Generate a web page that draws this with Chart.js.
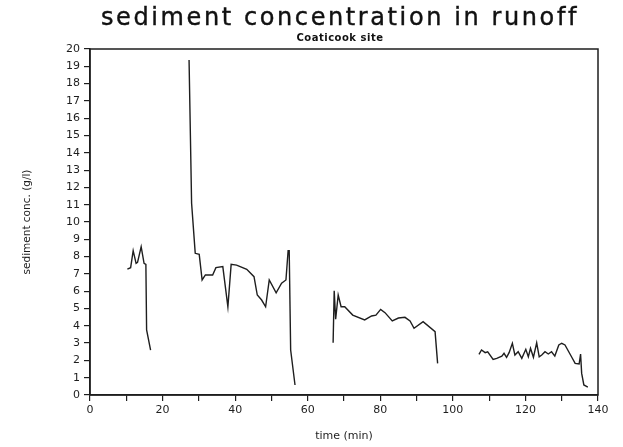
<!DOCTYPE html>
<html>
<head>
<meta charset="utf-8">
<title>sediment concentration in runoff</title>
<script src="https://cdn.jsdelivr.net/npm/chart.js@4.4.0/dist/chart.umd.min.js"></script>
<style>
  body { margin: 0; background: #fff; }
  #wrap { position: relative; width: 623px; height: 447px; }
  #title {
    position: absolute; left: 86px; width: 508px; top: 3px;
    text-align: center; font: 24px "DejaVu Sans"; letter-spacing: 2.6px; color: #111;
    -webkit-text-stroke: 0.4px #111;
  }
  #sub {
    position: absolute; left: 86px; width: 508px; top: 32px;
    text-align: center; font: bold 10px "DejaVu Sans"; letter-spacing: 0.5px; color: #111;
  }
  canvas { position: absolute; left: 0; top: 0; }
</style>
</head>
<body>
<div id="wrap">
  <canvas id="chart" width="623" height="447"></canvas>
  <div id="title">sediment concentration in runoff</div>
  <div id="sub">Coaticook site</div>
</div>
<script>
// four runoff events, time in minutes, concentration in g/l
const run1Time = [10.3, 11.2, 11.9, 12.7, 13.1, 14.1, 14.9, 15.4, 15.6, 16.7];
const run1Conc = [7.27, 7.36, 8.34, 7.61, 7.67, 8.57, 7.61, 7.55, 3.76, 2.6];

const run2Time = [27.3, 28.0, 29.0, 30.1, 30.9, 31.8, 33.8, 34.7, 36.6, 38.0, 38.9, 40.4,
                  43.2, 45.2, 46.1, 47.3, 48.4, 49.4, 51.3, 52.8, 54.0, 54.6, 54.9, 55.3, 56.5];
const run2Conc = [19.36, 11.08, 8.19, 8.13, 6.65, 6.94, 6.94, 7.36, 7.42, 5.1, 7.55, 7.51,
                  7.27, 6.84, 5.78, 5.49, 5.1, 6.65, 5.91, 6.46, 6.65, 8.34, 8.34, 2.6, 0.58];

const run3Time = [67.0, 67.3, 67.7, 68.4, 69.2, 70.2, 72.4, 75.7, 77.6, 78.8, 80.1, 81.3,
                  83.3, 85.0, 86.8, 88.2, 89.3, 91.8, 95.1, 95.8];
const run3Conc = [3.02, 6.03, 4.38, 5.78, 5.1, 5.1, 4.62, 4.34, 4.57, 4.62, 4.95, 4.76,
                  4.28, 4.45, 4.49, 4.28, 3.86, 4.24, 3.66, 1.83];

const run4Time = [107.2, 107.9, 108.9, 109.6, 111.1, 112.1, 113.5, 114.1, 114.8, 115.5, 116.4,
                  117.1, 118.0, 119.0, 120.1, 120.8, 121.4, 122.2, 123.1, 123.8, 124.5, 125.4,
                  126.3, 127.2, 128.1, 129.2, 130.0, 130.9, 132.7, 133.7, 134.8, 135.2, 135.5,
                  136.1, 137.2];
const run4Conc = [2.35, 2.6, 2.45, 2.5, 2.06, 2.12, 2.25, 2.41, 2.18, 2.45, 2.99,
                  2.31, 2.5, 2.12, 2.64, 2.21, 2.7, 2.18, 3.02, 2.21, 2.31, 2.5,
                  2.37, 2.5, 2.25, 2.89, 2.99, 2.89, 2.21, 1.83, 1.79, 2.37, 1.25,
                  0.58, 0.46];

const timeMax = 140;
const concMax = 20;

const runs = [
  [run1Time, run1Conc],
  [run2Time, run2Conc],
  [run3Time, run3Conc],
  [run4Time, run4Conc]
];

const ink = '#1e1e1e';
const tickFont = { family: 'DejaVu Sans', size: 11 };

// box around the plot area (Chart.js only draws left/bottom borders)
const frame = {
  id: 'frame',
  afterDraw(chart) {
    const { ctx, chartArea: a } = chart;
    ctx.save();
    ctx.strokeStyle = ink;
    ctx.lineWidth = 1.5;
    ctx.strokeRect(a.left, a.top, a.right - a.left, a.bottom - a.top);
    ctx.restore();
  }
};

new Chart(document.getElementById('chart'), {
  type: 'scatter',
  data: {
    datasets: runs.map(([t, c]) => ({
      data: t.map((x, i) => ({ x, y: c[i] })),
      showLine: true,
      borderColor: ink,
      borderWidth: 1.4,
      pointRadius: 0,
      tension: 0
    }))
  },
  options: {
    responsive: false,
    animation: false,
    layout: { padding: { top: 49, right: 25, left: 0, bottom: 0 } },
    plugins: { legend: { display: false }, tooltip: { enabled: false } },
    scales: {
      x: {
        type: 'linear',
        min: 0,
        max: timeMax,
        afterFit(scale) { scale.height = 52; },
        border: { display: true, color: ink, width: 1.5 },
        grid: { drawOnChartArea: false, drawTicks: true, tickLength: 6, color: ink, lineWidth: 1.2 },
        ticks: {
          stepSize: 10,
          autoSkip: false,
          maxRotation: 0,
          padding: 3,
          color: ink,
          font: tickFont,
          callback: v => (v % 20 === 0 ? v : '')
        },
        title: {
          display: true,
          text: 'time (min)',
          color: ink,
          font: { family: 'DejaVu Sans', size: 11 },
          padding: { top: 0, bottom: 4 }
        }
      },
      y: {
        min: 0,
        max: concMax,
        afterFit(scale) { scale.width = 90; },
        border: { display: true, color: ink, width: 1.5 },
        grid: { drawOnChartArea: false, drawTicks: true, tickLength: 6, color: ink, lineWidth: 1.2 },
        ticks: { stepSize: 1, autoSkip: false, padding: 4, color: ink, font: tickFont },
        title: {
          display: true,
          text: 'sediment conc. (g/l)',
          color: ink,
          font: { family: 'DejaVu Sans', size: 10.5 },
          padding: { top: 21, bottom: 0 }
        }
      }
    }
  },
  plugins: [frame]
});
</script>
</body>
</html>
